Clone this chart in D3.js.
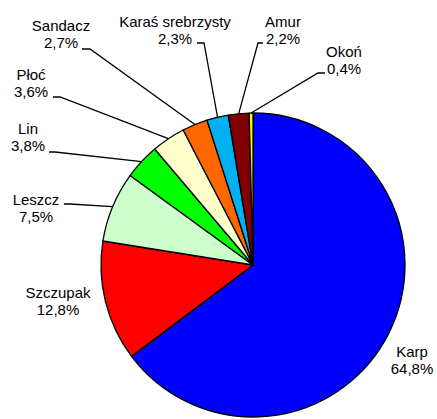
<!DOCTYPE html>
<html>
<head>
<meta charset="utf-8">
<script src="https://cdn.jsdelivr.net/npm/d3@7"></script>
<style>
  body { margin: 0; background: #fff; }
  text { font-family: "Liberation Sans", Arial, sans-serif; font-size: 15px; fill: #000; }
</style>
</head>
<body>
<script>
// data
const species = ["Karp", "Szczupak", "Leszcz", "Lin", "Płoć", "Sandacz", "Karaś srebrzysty", "Amur", "Okoń"];
const shares = [64.8, 12.8, 7.5, 3.8, 3.6, 2.7, 2.3, 2.2, 0.4];
const colors = ["#0000ff", "#ff0000", "#ccffcc", "#00ff00", "#ffffcc", "#ff6600", "#00b0f0", "#800000", "#ffff00"];

// label layout: [center x, baseline of name, leader [start x, start y, elbow x]]
const labelPos = [
  [412, 357, null],
  [58, 298, null],
  [36, 205, [64, 204, 70]],
  [28, 134, [49, 152, 55]],
  [31, 80, [53, 97, 60]],
  [61, 31, [82, 49, 90]],
  [175, 27, [197, 43, 204]],
  [283, 27, [263, 43, 258]],
  [344, 57, [325, 73, 318]]
];

const w = 437, h = 419;
const cx = 253, cy = 265, r = 152;

const svg = d3.select("body")
  .append("svg")
  .attr("width", w)
  .attr("height", h);

const pie = d3.pie().sort(null).value(d => d);
const arcs = pie(shares);
const arc = d3.arc().innerRadius(0).outerRadius(r);

const g = svg.append("g").attr("transform", `translate(${cx},${cy})`);

g.selectAll("path")
  .data(arcs)
  .enter()
  .append("path")
  .attr("d", arc)
  .attr("fill", (d, i) => colors[i])
  .attr("stroke", "#000")
  .attr("stroke-width", 1.3)
  .attr("stroke-linejoin", "round");

// leader lines
arcs.forEach((d, i) => {
  const lp = labelPos[i][2];
  if (!lp) return;
  const mid = (d.startAngle + d.endAngle) / 2;
  const px = cx + r * Math.sin(mid);
  const py = cy - r * Math.cos(mid);
  svg.append("polyline")
    .attr("points", `${lp[0]},${lp[1]} ${lp[2]},${lp[1]} ${px},${py}`)
    .attr("fill", "none")
    .attr("stroke", "#000")
    .attr("stroke-width", 1.3);
});

// labels
const labels = svg.selectAll("text.lbl")
  .data(arcs)
  .enter()
  .append("text")
  .attr("class", "lbl")
  .attr("text-anchor", "middle")
  .attr("x", (d, i) => labelPos[i][0])
  .attr("y", (d, i) => labelPos[i][1]);

labels.append("tspan")
  .attr("x", (d, i) => labelPos[i][0])
  .text((d, i) => species[i]);
labels.append("tspan")
  .attr("x", (d, i) => labelPos[i][0])
  .attr("dy", 17)
  .text((d, i) => shares[i].toFixed(1).replace(".", ",") + "%");
</script>
</body>
</html>
